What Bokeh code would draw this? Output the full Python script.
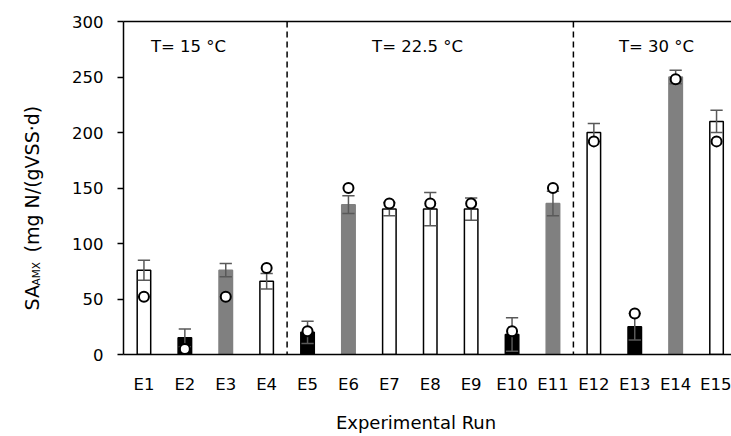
import numpy as np
from bokeh.plotting import figure
from bokeh.layouts import row
from bokeh.models import Range1d, FixedTicker, LinearAxis, Label, Span, ColumnDataSource
from bokeh.embed import file_html
from bokeh.resources import INLINE

# ---------------- data ----------------
runs = ["E1", "E2", "E3", "E4", "E5", "E6", "E7", "E8", "E9", "E10",
        "E11", "E12", "E13", "E14", "E15"]
sa_measured = [76, 15, 76, 66, 20, 135, 131, 131, 131, 18, 136, 200, 25, 250, 210]
sa_error = [9, 8, 6, 7, 10, 8, 6, 15, 10, 15, 11, 8, 12, 6, 10]
sa_model = [52, 5, 52, 78, 21, 150, 136, 136, 136, 21, 150, 192, 37, 248, 192]
bar_kind = ["open", "black", "gray", "open", "black", "gray", "open", "open",
            "open", "black", "gray", "open", "black", "gray", "open"]
temperature_labels = ["T= 15 °C", "T= 22.5 °C", "T= 30 °C"]
runs_per_temperature = [4, 7, 4]
y_ticks = [0, 50, 100, 150, 200, 250, 300]
x_title = "Experimental Run"
y_title_parts = ["SA", "AMX", "(mg N/(gVSS·d)"]

# ---------------- layout ----------------
FONT = "DejaVu Sans"
W, H = 731, 436
YLAB_W = 60           # strip on the left holding the y title
MAIN_W = W - YLAB_W
FRAME_LEFT_ABS = 123
TOP = 21
FRAME_BOTTOM_ABS = 354
LEFT = FRAME_LEFT_ABS - YLAB_W
BOTTOM = H - FRAME_BOTTOM_ABS
FRAME_W = MAIN_W - LEFT
FRAME_H = FRAME_BOTTOM_ABS - TOP
PX_PER_RUN = 40.9
X_START = 0.5
X_END = X_START + FRAME_W / PX_PER_RUN
Y_START, Y_END = 0, 300


def xd(px):
    return X_START + (px - FRAME_LEFT_ABS) / PX_PER_RUN


def yd(py):
    return Y_END - (py - TOP) * (Y_END - Y_START) / FRAME_H


fill_map = {"open": "white", "black": "black", "gray": "#808080"}
line_map = {"open": "black", "black": "black", "gray": "#808080"}

x = list(range(1, len(runs) + 1))
src = ColumnDataSource(dict(
    x=x, top=sa_measured, model=sa_model,
    lo=[m - e for m, e in zip(sa_measured, sa_error)],
    hi=[m + e for m, e in zip(sa_measured, sa_error)],
    xl=[v - 0.15 for v in x], xr=[v + 0.15 for v in x],
    fill=[fill_map[k] for k in bar_kind],
    line=[line_map[k] for k in bar_kind],
))

p = figure(width=MAIN_W, height=H, output_backend="svg", toolbar_location=None,
           x_range=Range1d(X_START, X_END), y_range=Range1d(Y_START, Y_END),
           min_border_left=LEFT, min_border_right=0,
           min_border_top=TOP, min_border_bottom=BOTTOM)
p.outline_line_color = None
p.background_fill_color = "white"
p.border_fill_color = "white"
p.xgrid.visible = False
p.ygrid.visible = False

# bars
p.vbar(x="x", top="top", width=0.33, source=src, fill_color="fill",
       line_color="line", line_width=1.5)

# error bars
ecol = "#595959"
p.segment(x0="x", y0="lo", x1="x", y1="hi", source=src, line_color=ecol, line_width=1.5)
p.segment(x0="xl", y0="hi", x1="xr", y1="hi", source=src, line_color=ecol, line_width=1.5)
p.segment(x0="xl", y0="lo", x1="xr", y1="lo", source=src, line_color=ecol, line_width=1.5)

# model points
p.scatter(x="x", y="model", source=src, size=10, fill_color="white",
          line_color="black", line_width=2)

# separators between temperature groups
cum = np.cumsum(runs_per_temperature)
for c in cum[:-1]:
    p.add_layout(Span(location=c + 0.5, dimension="height", line_color="black",
                      line_dash="6 4", line_width=1.5))

# temperature labels
label_centers_px = [188, 417, 656]
for t, cx in zip(temperature_labels, label_centers_px):
    p.add_layout(Label(x=xd(cx), y=yd(46), text=t, text_font=FONT,
                       text_font_size="16.5px", text_align="center",
                       text_baseline="middle", text_color="black"))

# axes
xa = p.xaxis[0]
xa.ticker = FixedTicker(ticks=x)
xa.major_label_overrides = {i: r for i, r in zip(x, runs)}
xa.major_tick_out = 0
xa.major_tick_in = 0
xa.minor_tick_out = 0
xa.minor_tick_in = 0
xa.axis_line_width = 1.5
xa.axis_line_color = "black"
xa.major_label_text_font = FONT
xa.major_label_text_font_size = "16.5px"
xa.major_label_text_color = "black"
xa.major_label_standoff = 20
# trailing no-break spaces shift the centred title a little to the left
xa.axis_label = x_title + "\u00a0" * 4
xa.axis_label_text_font = FONT
xa.axis_label_text_font_size = "18px"
xa.axis_label_text_font_style = "normal"
xa.axis_label_text_color = "black"
xa.axis_label_standoff = 15

ya = p.yaxis[0]
ya.ticker = FixedTicker(ticks=y_ticks)
ya.major_tick_out = 6
ya.major_tick_in = 0
ya.minor_tick_out = 0
ya.minor_tick_in = 0
ya.axis_line_width = 1.5
ya.major_tick_line_width = 1.5
ya.axis_line_color = "black"
ya.major_label_text_font = FONT
ya.major_label_text_font_size = "16.5px"
ya.major_label_text_color = "black"
ya.major_label_standoff = 14

top_axis = LinearAxis(ticker=FixedTicker(ticks=[]), axis_line_width=1.5,
                      axis_line_color="black", major_tick_out=0, major_tick_in=0,
                      minor_tick_out=0, minor_tick_in=0,
                      major_label_text_font_size="0px")
p.add_layout(top_axis, "above")

# y title strip: its frame is aligned with the main frame by the row layout,
# so its y range is expressed in page pixels measured upward from the page bottom
ys = figure(width=YLAB_W, height=H, output_backend="svg", toolbar_location=None,
            x_range=Range1d(0, YLAB_W),
            y_range=Range1d(H - FRAME_BOTTOM_ABS, H - TOP), min_border=0,
            x_axis_location=None, y_axis_location=None)
ys.outline_line_color = None
ys.xgrid.visible = False
ys.ygrid.visible = False
ys.background_fill_color = "white"
ys.border_fill_color = "white"

title_pieces = [
    (y_title_parts[0], 31, 310, "19px"),
    (y_title_parts[1], 35, 285, "10.5px"),
    (y_title_parts[2], 31, 252, "19px"),
]
for txt, bx, py, fs in title_pieces:
    ys.add_layout(Label(x=bx, y=H - py, text=txt, angle=np.pi / 2,
                        text_font=FONT, text_font_size=fs, text_align="left",
                        text_baseline="alphabetic", text_color="black"))

layout = row(ys, p, spacing=0)

open("out.html", "w").write(file_html(layout, INLINE))
